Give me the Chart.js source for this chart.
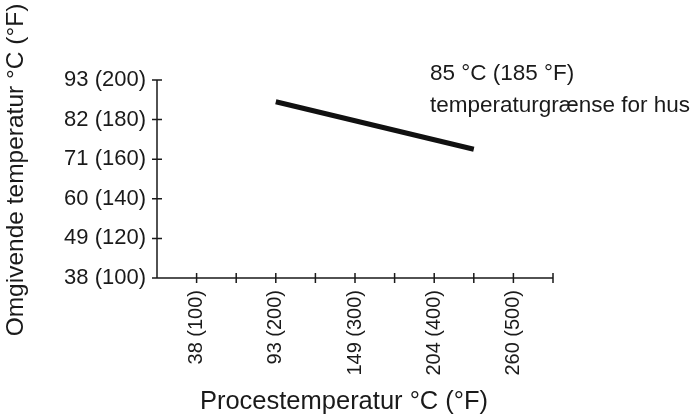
<!DOCTYPE html>
<html>
<head>
<meta charset="utf-8">
<script src="https://cdn.jsdelivr.net/npm/chart.js@4/dist/chart.umd.min.js"></script>
<style>
  html, body { margin: 0; padding: 0; background: #fff; }
  #wrap { width: 694px; height: 417px; }
</style>
</head>
<body>
<div id="wrap"><canvas id="chart"></canvas></div>
<script>
// Process temperature (°F) on x, ambient temperature (°F) on y
const xTickValues = [100, 200, 300, 400, 500];
const xTickLabels = ['38 (100)', '93 (200)', '149 (300)', '204 (400)', '260 (500)'];
const yTickValues = [100, 120, 140, 160, 180, 200];
const yTickLabels = ['38 (100)', '49 (120)', '60 (140)', '71 (160)', '82 (180)', '93 (200)'];
const limitX = [200, 450];
const limitY = [189, 165];
const noteLines = ['85 °C (185 °F)', 'temperaturgrænse for hus'];

const FONT = '"Liberation Sans", Arial, Helvetica, sans-serif';

// axis lines, crossing tick marks, titles and the note
const decorations = {
  id: 'decorations',
  afterDraw(chart) {
    const { ctx, chartArea: a, scales: { x, y } } = chart;
    ctx.save();
    ctx.strokeStyle = '#1a1a1a';
    ctx.lineWidth = 1.5;
    ctx.beginPath();
    ctx.moveTo(a.left, a.top);
    ctx.lineTo(a.left, a.bottom);
    ctx.lineTo(a.right, a.bottom);
    x.ticks.forEach(t => {
      if (t.value === x.min) return;
      const px = x.getPixelForValue(t.value);
      ctx.moveTo(px, a.bottom - 5);
      ctx.lineTo(px, a.bottom + 5);
    });
    y.ticks.forEach(t => {
      const py = y.getPixelForValue(t.value);
      ctx.moveTo(a.left - 5, py);
      ctx.lineTo(t.value === y.min ? a.left : a.left + 5, py);
    });
    ctx.stroke();

    ctx.fillStyle = '#1a1a1a';
    ctx.textBaseline = 'middle';
    ctx.textAlign = 'center';
    ctx.font = '25.5px ' + FONT;
    ctx.fillText('Procestemperatur °C (°F)', 344, 402);
    ctx.save();
    ctx.translate(16, 170);
    ctx.rotate(-Math.PI / 2);
    ctx.font = '24.5px ' + FONT;
    ctx.fillText('Omgivende temperatur °C (°F)', 0, 0);
    ctx.restore();

    ctx.textAlign = 'left';
    ctx.font = '22.5px ' + FONT;
    ctx.fillText(noteLines[0], 430, 74);
    ctx.fillText(noteLines[1], 430, 106);
    ctx.restore();
  }
};

new Chart(document.getElementById('chart'), {
  type: 'line',
  data: {
    datasets: [{
      data: limitX.map((v, i) => ({ x: v, y: limitY[i] })),
      borderColor: '#111',
      borderWidth: 5,
      pointRadius: 0,
      borderCapStyle: 'butt',
      fill: false
    }]
  },
  options: {
    responsive: true,
    maintainAspectRatio: false,
    animation: false,
    layout: { padding: { top: 80, right: 141, left: 0, bottom: 0 } },
    plugins: {
      legend: { display: false },
      tooltip: { enabled: false }
    },
    scales: {
      x: {
        type: 'linear',
        min: 50,
        max: 550,
        afterFit: s => { s.height = 139; },
        grid: { display: false, drawTicks: false },
        border: { display: false },
        ticks: {
          stepSize: 50,
          autoSkip: false,
          minRotation: 90,
          maxRotation: 90,
          padding: 12,
          color: '#1a1a1a',
          font: { family: FONT, size: 20 },
          callback: v => {
            const i = xTickValues.indexOf(v);
            return i >= 0 ? xTickLabels[i] : '';
          }
        }
      },
      y: {
        type: 'linear',
        min: 100,
        max: 200,
        afterFit: s => { s.width = 157; },
        grid: { display: false, drawTicks: false },
        border: { display: false },
        ticks: {
          stepSize: 20,
          padding: 11,
          color: '#1a1a1a',
          font: { family: FONT, size: 22 },
          callback: v => {
            const i = yTickValues.indexOf(v);
            return i >= 0 ? yTickLabels[i] : '';
          }
        }
      }
    }
  },
  plugins: [decorations]
});
</script>
</body>
</html>
